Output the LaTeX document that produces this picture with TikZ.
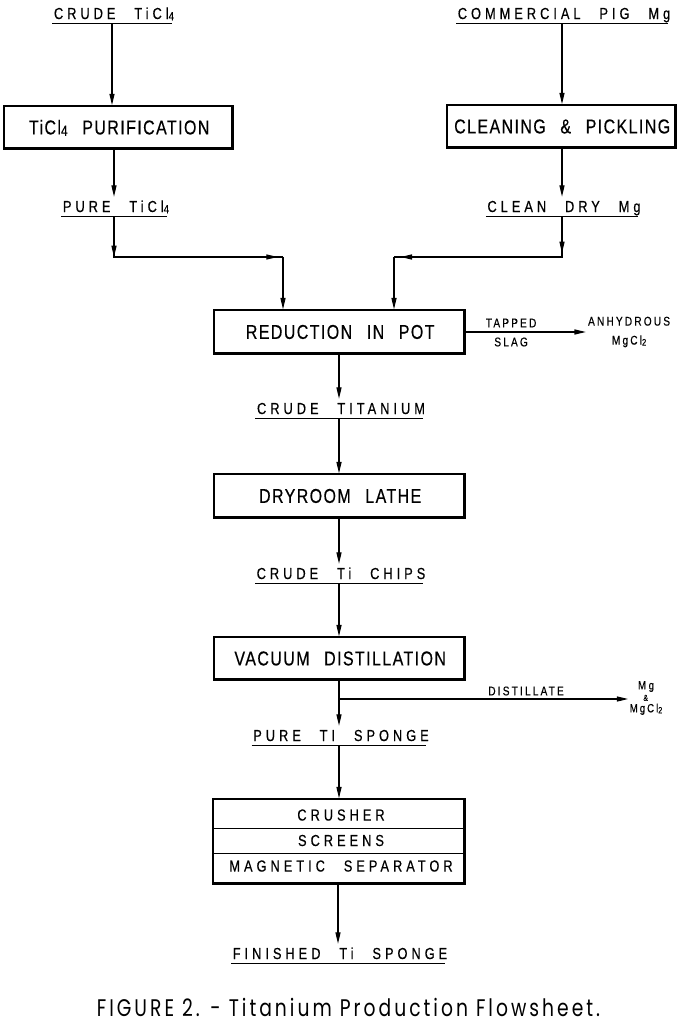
\documentclass[tikz,border=0pt]{standalone}
\usepackage{fontspec}
\usetikzlibrary{arrows.meta}
\newfontfamily\boxfont[FakeStretch=0.8,LetterSpace=7,WordSpace=2.5,FakeBold=0.4]{Liberation Sans}
\newfontfamily\lblfont[FakeStretch=0.8,LetterSpace=25,WordSpace=2.5,FakeBold=0.4]{Liberation Sans}
\newfontfamily\smfont[FakeStretch=0.8,LetterSpace=17,WordSpace=2.5,FakeBold=0.3]{Liberation Sans}
\newfontfamily\capfont[FakeStretch=0.78,LetterSpace=12.5]{Poppins}
\newcommand\bk{\kern-.07em}
\newcommand\nk{\kern-.25em}
\newcommand\sk{\kern-.17em}
\newcommand\ck{\kern-.125em}
\newcommand\sbs[1]{\raisebox{-0.15ex}{\scalebox{0.75}{#1}}}
\begin{document}
\begin{tikzpicture}[x=0.75pt,y=-0.75pt,
  ln/.style={line width=0.8pt},
  arr/.style={ln,-{Triangle[length=8.5pt,width=3.8pt]}},
  ul/.style={line width=0.9pt},
  thickedge/.style={path picture={\draw[line width=3pt] (path picture bounding box.south west) -- (path picture bounding box.south east) -- (path picture bounding box.north east);}},
  box/.style={draw,line width=1.1pt,inner sep=0pt,minimum height=32.5pt,text height=10.3pt,text depth=0pt,font=\boxfont\fontsize{15}{17}\selectfont,execute at end node=\bk,thickedge},
  crushbox/.style={draw,line width=1.1pt,inner sep=0pt,minimum width=189pt,minimum height=63.75pt,thickedge},
  lbl/.style={font=\lblfont\fontsize{12}{14}\selectfont,inner xsep=1pt,inner ysep=3pt,text height=8.3pt,text depth=0pt,execute at end node=\nk},
  small/.style={font=\smfont\fontsize{9.5}{14.25}\selectfont,inner sep=1.5pt},
  sepline/.style={line width=0.6pt},
  capt/.style={font=\capfont\fontsize{18}{20}\selectfont,inner sep=0pt,text height=12.6pt,text depth=0pt,execute at end node=\ck}
]
\useasboundingbox (0,0) rectangle (677,1023);
\fill[white] (0,0) rectangle (677,1023);
% top row
\node[lbl] (crudeTi) at (112,13.5) {CRUDE TiCl\sbs4};
\node[lbl] (pig) at (562,13.5) {COMMERCIAL PIG Mg};
\node[box,minimum width=171.75pt] (purif) at (118.5,127.5) {TiCl\sbs4 PURIFICATION};
\node[box,minimum width=171.75pt] (clean) at (561.5,126.5) {CLEANING \& PICKLING};
\node[lbl] (pureTi) at (114,206.5) {PURE TiCl\sbs4};
\node[lbl] (dryMg) at (562,206.5) {CLEAN DRY Mg};
\coordinate (jl) at (114,257);
\coordinate (jl2) at (283,257);
\coordinate (jr) at (562,257);
\coordinate (jr2) at (394,257);
% reduction
\node[box,minimum width=188.25pt,minimum height=33pt] (red) at (339.5,332) {REDUCTION IN POT};
\node[small] (tapped) at (510,323) {TAPPED\sk};
\node[small] (slag) at (510,342) {SLAG\sk};
\node[small,align=center] (anhyd) at (628,332) {ANHYDROUS\sk\\Mg\,Cl\sbs2\sk};
\node[lbl] (ctitan) at (339,408.5) {CRUDE TITANIUM};
\node[box,minimum width=188.25pt,minimum height=33pt] (lathe) at (339.5,496) {DRYROOM LATHE};
\node[lbl] (chips) at (339,573.5) {CRUDE Ti CHIPS};
\node[box,minimum width=188.25pt,minimum height=32.25pt] (vac) at (339.5,658.5) {VACUUM DISTILLATION};
\coordinate (br) at (339,699);
\node[small] (distil) at (525,691) {DISTILLATE\sk};
\node[small,align=center,font=\smfont\fontsize{9}{8.6}\selectfont,inner sep=1pt] (mgmix) at (645,698) {M\hspace{2pt}g\sk\\{\fontsize{6.5}{8.6}\selectfont\&\sk}\\MgCl\sbs2\sk};
\node[lbl] (pts) at (339,735.5) {PURE TI SPONGE};
\node[crushbox] (crush) at (339,841.5) {};
\node[lbl] (cr1) at (339,815) {CRUSHER};
\node[lbl] (cr2) at (339,840.5) {SCREENS};
\node[lbl] (cr3) at (339,866) {MAGNETIC SEPARATOR};
\coordinate (d1) at (339,828);
\coordinate (d2) at (339,853);
\node[lbl] (fin) at (338,953.5) {FINISHED Ti SPONGE};
\node[capt] (cap) at (347,1008) {FIGURE 2. - Titanium Production Flowsheet.};
% underlines
\foreach \n in {crudeTi,pig,pureTi,dryMg,ctitan,chips,pts,fin}
  \draw[ul] (\n.south west) -- (\n.south east);
% connectors
\draw[arr] (crudeTi.south) -- (crudeTi.south |- purif.north);
\draw[arr] (purif.south -| pureTi) -- (pureTi.north);
\draw[arr] (pig.south) -- (pig.south |- clean.north);
\draw[arr] (clean.south -| dryMg) -- (dryMg.north);
\draw[ln] (pureTi.south) -- (jl) -- (jl2);
\draw[arr] (pureTi.south) -- (jl);
\draw[arr,shorten >=4pt] (jl) -- (jl2);
\draw[arr] (jl2) -- (jl2 |- red.north);
\draw[ln] (dryMg.south) -- (jr) -- (jr2);
\draw[arr,shorten >=3pt] (dryMg.south) -- (jr);
\draw[arr,shorten >=5pt] (jr) -- (jr2);
\draw[arr] (jr2) -- (jr2 |- red.north);
\draw[arr] (red.east) -- (anhyd.west);
\draw[arr] (red.south -| ctitan) -- (ctitan.north);
\draw[arr] (ctitan.south) -- (ctitan.south |- lathe.north);
\draw[arr] (lathe.south -| chips) -- (chips.north);
\draw[arr] (chips.south) -- (chips.south |- vac.north);
\draw[arr] (vac.south -| pts) -- (pts.north);
\draw[arr] (br) -- (br -| mgmix.west);
\draw[arr] (pts.south) -- (pts.south |- crush.north);
\draw[sepline] (crush.west |- d1) -- (crush.east |- d1);
\draw[sepline] (crush.west |- d2) -- (crush.east |- d2);
\draw[arr] (crush.south -| fin) -- (fin.north);
\end{tikzpicture}
\end{document}
